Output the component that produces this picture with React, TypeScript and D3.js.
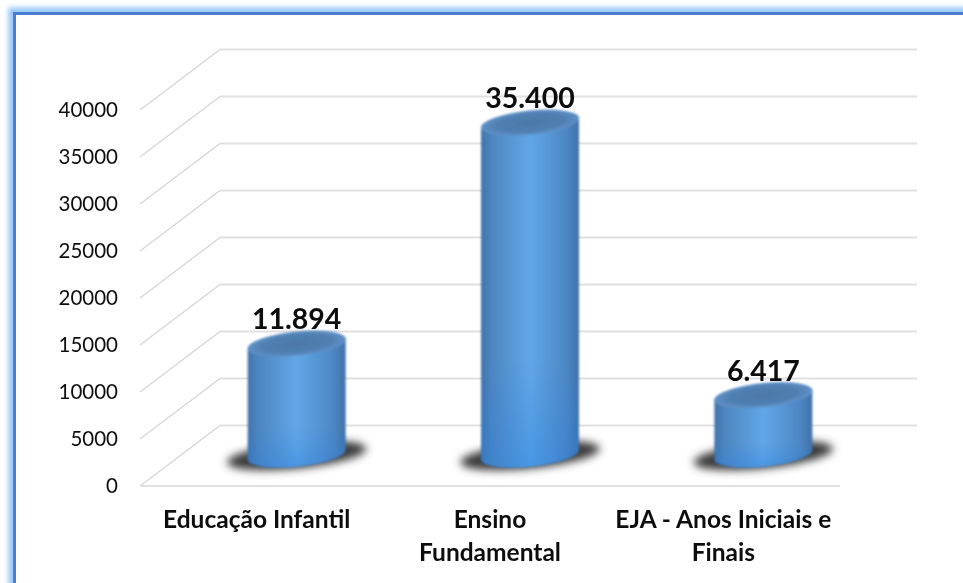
import React from "react";
import * as d3 from "d3";

const categories = ["Educação Infantil", "Ensino Fundamental", "EJA - Anos Iniciais e Finais"];
const categoryLines = [["Educação Infantil"], ["Ensino", "Fundamental"], ["EJA - Anos Iniciais e", "Finais"]];
const values = [11894, 35400, 6417];
const valueLabels = ["11.894", "35.400", "6.417"];
const ticks = [0, 5000, 10000, 15000, 20000, 25000, 30000, 35000, 40000];

const W = 963, H = 583;
const font = "Lato, Carlito, sans-serif";
const depthX = 80, depthY = -60.5;
const x = d3.scaleBand<string>().domain(categories).range([140, 840]);
const yFront = d3.scaleLinear().domain([0, 40000]).range([486, 110]);
const yBack = (v: number) => yFront(v) + depthY;
const yBar = (v: number) => yFront(v) - 30.5;
const line = d3.line<[number, number]>();

const rx = 49.4, ry = 12.2, rot = -5.8, dx = 49, dy = 5;

function cylinder(cx: number, yTop: number, yBase: number) {
  return `M${cx - dx},${yTop + dy} A${rx},${ry} ${rot} 0 1 ${cx + dx},${yTop - dy} L${cx + dx},${yBase - dy} A${rx},${ry} ${rot} 0 1 ${cx - dx},${yBase + dy} Z`;
}

export default function App() {
  const yBase = yBar(0);
  return (
    <svg width={W} height={H} viewBox={`0 0 ${W} ${H}`} style={{ position: "absolute", left: 0, top: 0, background: "#fff" }}>
      <defs>
        <linearGradient id="body" x1="0" x2="1" y1="0" y2="0">
          <stop offset="0" stopColor="#4174aa" />
          <stop offset="0.1" stopColor="#4d85bf" />
          <stop offset="0.5" stopColor="#61a7e8" />
          <stop offset="0.88" stopColor="#4d86c3" />
          <stop offset="1" stopColor="#4071a6" />
        </linearGradient>
        <linearGradient id="baseGlow" x1="0" x2="0" y1="0" y2="1">
          <stop offset="0.7" stopColor="#2a80e0" stopOpacity="0" />
          <stop offset="1" stopColor="#2a7ede" stopOpacity="0.4" />
        </linearGradient>
        <radialGradient id="cap">
          <stop offset="0" stopColor="#4c78a8" />
          <stop offset="0.7" stopColor="#507fb2" />
          <stop offset="1" stopColor="#6092c8" />
        </radialGradient>
        <filter id="blurShadow" x="-30%" y="-60%" width="160%" height="220%">
          <feGaussianBlur stdDeviation="4.5" />
        </filter>
        <filter id="soft" x="-5%" y="-5%" width="110%" height="110%">
          <feGaussianBlur stdDeviation="0.4" />
        </filter>
        <filter id="softBar" x="-5%" y="-5%" width="110%" height="110%">
          <feGaussianBlur stdDeviation="0.8" />
        </filter>
        <filter id="softLine" x="-5%" y="-5%" width="110%" height="110%">
          <feGaussianBlur stdDeviation="0.6" />
        </filter>
        <filter id="glow" x="-5%" y="-5%" width="110%" height="110%">
          <feGaussianBlur stdDeviation="2.5" />
        </filter>
      </defs>

      {/* frame */}
      <rect x={12} y={11} width={W + 40} height={H + 40} fill="none" stroke="#8fc4f8" strokeWidth={7} filter="url(#glow)" />
      <rect x={14.5} y={13.5} width={W + 40} height={H + 40} fill="#fff" stroke="#4a7ed2" strokeWidth={3} />

      {/* grid */}
      <g filter="url(#softLine)" fill="none">
        {ticks.map((t) => (
          <g key={t}>
            <path d={line([[140, yFront(t)], [140 + depthX, yBack(t)]])!} stroke="#d4d4d4" strokeWidth={1.2} />
            <path d={line([[140 + depthX, yBack(t)], [917, yBack(t)]])!} stroke="#e0e0e0" strokeWidth={2.2} />
          </g>
        ))}
        <path d={line([[140, yFront(0)], [840, yFront(0)]])!} stroke="#e0e0e0" strokeWidth={2.2} />
      </g>

      {/* ticks */}
      <g filter="url(#soft)">
        {ticks.map((t) => (
          <text key={t} x={118} y={yFront(t)} dy="0.35em" textAnchor="end" fontFamily={font} fontSize={20.5} fill="#111">
            {t}
          </text>
        ))}
      </g>

      {/* cylinders */}
      {categories.map((c, i) => {
        const cx = x(c)! + x.bandwidth() / 2 + 40;
        const yTop = yBar(values[i]);
        const d = cylinder(cx, yTop, yBase);
        return (
          <g key={c}>
            <ellipse cx={cx} cy={yBase} rx={70} ry={13} transform={`rotate(${rot} ${cx} ${yBase})`} fill="#3a3a3a" filter="url(#blurShadow)" />
            <g filter="url(#softBar)">
              <path d={d} fill="url(#body)" />
              <path d={d} fill="url(#baseGlow)" />
              <ellipse cx={cx} cy={yTop} rx={rx} ry={ry} transform={`rotate(${rot} ${cx} ${yTop})`} fill="url(#cap)" />
            </g>
          </g>
        );
      })}

      {/* value labels */}
      <g filter="url(#soft)">
        {categories.map((c, i) => (
          <text key={c} x={x(c)! + x.bandwidth() / 2 + 40} y={yBar(values[i]) - 14.5} textAnchor="middle" fontFamily={font} fontSize={28.5} fontWeight={700} fill="#0a0a0a">
            {valueLabels[i]}
          </text>
        ))}
      </g>

      {/* category labels */}
      <g filter="url(#soft)">
        {categories.map((c, i) =>
          categoryLines[i].map((l, j) => (
            <text key={l} x={x(c)! + x.bandwidth() / 2} y={528 + j * 32.5} textAnchor="middle" fontFamily={font} fontSize={24.5} fontWeight={700} fill="#111">
              {l}
            </text>
          ))
        )}
      </g>
    </svg>
  );
}
